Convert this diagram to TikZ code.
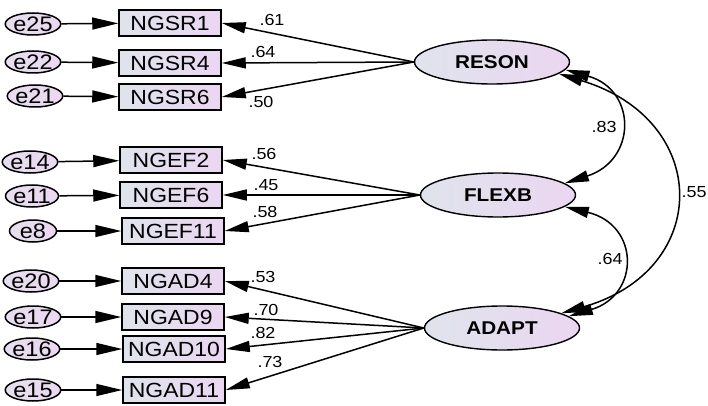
\documentclass[tikz,border=0pt]{standalone}
\usepackage{fontspec}
\setmainfont{Liberation Sans}[FakeStretch=1.12]
\usetikzlibrary{arrows.meta,shapes.geometric}
\definecolor{fillL}{HTML}{DFE4EC}
\definecolor{fillR}{HTML}{EBD6F1}
\definecolor{efillL}{HTML}{E6DEEE}
\definecolor{efillR}{HTML}{EBD8F0}
\tikzset{
  evar/.style={ellipse, draw, line width=1.5pt, minimum width=47pt, minimum height=22pt, inner sep=0pt,
    left color=efillL, right color=efillR, font=\fontsize{21}{22}\selectfont},
  obs/.style={rectangle, draw, line width=1.5pt, minimum width=102pt, minimum height=26pt, inner sep=0pt,
    left color=fillL, right color=fillR, font=\fontsize{20.5}{21}\selectfont},
  lat/.style={ellipse, draw, line width=1.4pt, minimum width=155pt, minimum height=44pt, inner sep=0pt,
    left color=fillL, right color=fillR, font=\fontsize{18.5}{19}\selectfont\bfseries},
  errarr/.style={line width=1.5pt, -{Triangle[length=26pt,width=12pt]}},
  load/.style={line width=1.5pt, -{Triangle[length=24pt,width=11pt]}},
  cov/.style={line width=1.5pt, {Triangle[length=24pt,width=11pt]}-{Triangle[length=24pt,width=11pt]}},
  coef/.style={inner sep=0pt, font=\fontsize{16}{17}\selectfont}
}
\begin{document}
\begin{tikzpicture}[x=1pt,y=-1pt]
\useasboundingbox[fill=white] (0,0) rectangle (708,406);
% latent
\node[lat] (RESON) at (492,62) {RESON};
\node[lat] (FLEXB) at (498,195) {FLEXB};
\node[lat] (ADAPT) at (502,328) {ADAPT};
% observed
\node[obs] (NGSR1) at (170,23) {NGSR1};
\node[obs] (NGSR4) at (170,63) {NGSR4};
\node[obs] (NGSR6) at (170,97) {NGSR6};
\node[obs] (NGEF2) at (171,160) {NGEF2};
\node[obs] (NGEF6) at (171,195) {NGEF6};
\node[obs] (NGEF11) at (173,231) {NGEF11};
\node[obs] (NGAD4) at (173,281) {NGAD4};
\node[obs] (NGAD9) at (173,317) {NGAD9};
\node[obs] (NGAD10) at (174,349) {NGAD10};
\node[obs] (NGAD11) at (174,390) {NGAD11};
% errors
\node[evar] (e25) at (33,24) {e25};
\node[evar] (e22) at (33,62) {e22};
\node[evar] (e21) at (35,96) {e21};
\node[evar] (e14) at (30,162) {e14};
\node[evar] (e11) at (32,196) {e11};
\node[evar] (e8) at (33,231) {e8};
\node[evar] (e20) at (31,281) {e20};
\node[evar] (e17) at (33,317) {e17};
\node[evar] (e16) at (32,349) {e16};
\node[evar] (e15) at (33,390) {e15};
% error arrows
\foreach \e/\o in {e25/NGSR1,e22/NGSR4,e21/NGSR6,e14/NGEF2,e11/NGEF6,e8/NGEF11,e20/NGAD4,e17/NGAD9,e16/NGAD10,e15/NGAD11}
  \draw[errarr] (\e) -- (\o);
% loadings
\foreach \o in {NGSR1,NGSR4,NGSR6} \draw[load] (RESON.west) -- (\o.east);
\foreach \o in {NGEF2,NGEF6,NGEF11} \draw[load] (FLEXB.west) -- (\o.east);
\foreach \o in {NGAD4,NGAD9,NGAD10,NGAD11} \draw[load] (ADAPT.west) -- (\o.east);
% covariances
\draw[cov] (RESON.-6) .. controls (637,90) and (637,160) .. (FLEXB.10);
\draw[cov] (FLEXB.-10) .. controls (640,225) and (640,295) .. (ADAPT.10);
\draw[cov] (RESON.-10) .. controls (712,120) and (712,270) .. (ADAPT.14);
% coefficients
\node[coef] (c1) at (272,20) {.61};
\node[coef] (c2) at (263,52) {.64};
\node[coef] (c3) at (261,102) {.50};
\node[coef] (c4) at (264,154) {.56};
\node[coef] (c5) at (266,185) {.45};
\node[coef] (c6) at (265,212) {.58};
\node[coef] (c7) at (263,277) {.53};
\node[coef] (c8) at (266,310) {.70};
\node[coef] (c9) at (263,333) {.82};
\node[coef] (c10) at (270,362) {.73};
\node[coef] (c11) at (604,127) {.83};
\node[coef] (c12) at (610,259) {.64};
\node[coef] (c13) at (694,192) {.55};
\end{tikzpicture}
\end{document}
